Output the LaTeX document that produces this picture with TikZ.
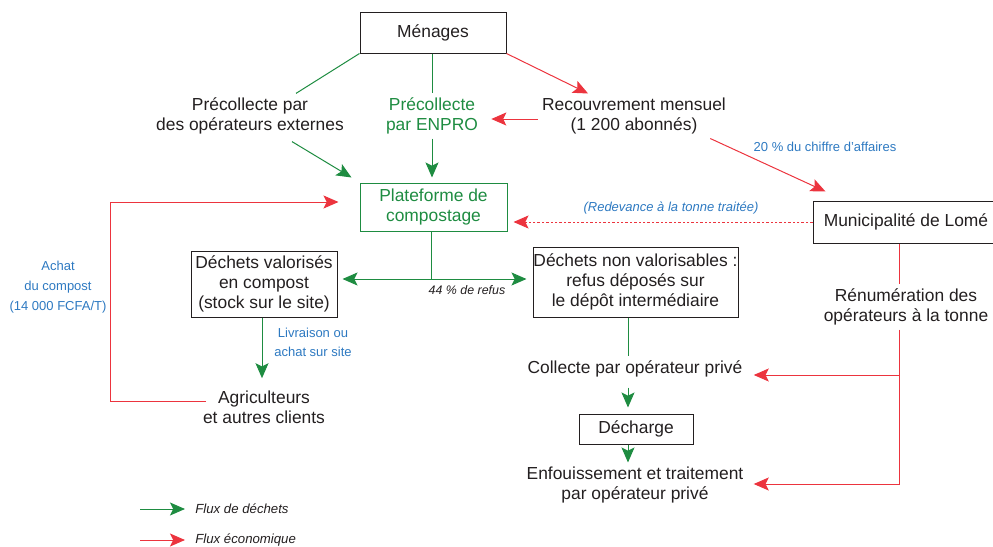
\documentclass[tikz,border=0pt]{standalone}
\usepackage{fontspec}
\setmainfont{Liberation Sans}
\usetikzlibrary{arrows.meta}

\definecolor{ink}{RGB}{35,31,32}
\definecolor{wastegreen}{RGB}{30,140,65}
\definecolor{ecored}{RGB}{236,52,62}
\definecolor{noteblue}{RGB}{45,121,193}

\begin{document}
\begin{tikzpicture}[x=0.5pt, y=-0.5pt,
        every node/.style={text=ink, align=center, inner sep=2pt, font=\fontsize{8.7}{10}\selectfont},
        box/.style={draw=ink, line width=0.5pt, inner sep=0pt},
        note/.style={text=noteblue, font=\fontsize{6.5}{10}\selectfont},
        legtext/.style={inner sep=0pt, anchor=west, font=\itshape\fontsize{6.6}{8}\selectfont},
        flux/.style={wastegreen, line width=0.5pt, -{Stealth[length=7.5pt, width=6.5pt, inset=1.6pt]}},
        eco/.style={ecored, line width=0.5pt, -{Stealth[length=7.5pt, width=6.5pt, inset=1.6pt]}}]
        \useasboundingbox (0,0) rectangle (993,547);

        % boxes and texts
        \node[box, minimum width=73pt, minimum height=20.5pt] (men) at (433,32.5) {Ménages};
        \node (pext) at (250,116) {Précollecte par\\des opérateurs externes};
        \node[text=wastegreen] (penp) at (432,116) {Précollecte\\par ENPRO};
        \node (recv) at (634,116) {Recouvrement mensuel\\(1 200 abonnés)};
        \node[box, draw=wastegreen, text=wastegreen, minimum width=73.5pt, minimum height=24pt] (plat) at (433.5,207) {Plateforme de\\compostage};
        \node[box, minimum width=93pt, minimum height=21pt] (muni) at (906,222) {Municipalité de Lomé};
        \node[box, minimum width=73pt, minimum height=33pt] (dval) at (264,284) {Déchets valorisés\\en compost\\(stock sur le site)};
        \node[box, minimum width=102.5pt, minimum height=35pt] (dnon) at (635.5,282) {Déchets non valorisables :\\refus déposés sur\\le dépôt intermédiaire};
        \node (agri) at (264,407) {Agriculteurs\\et autres clients};
        \node (coll) at (635,369) {Collecte par opérateur privé};
        \node[box, minimum width=57pt, minimum height=15pt] (dech) at (636,429) {Décharge};
        \node (enf) at (635,485) {Enfouissement et traitement\\par opérateur privé};
        \node (remu) at (906,307) {Rénumération des\\opérateurs à la tonne};

        % labels
        \node[note] (achat) at (58,287.5) {Achat\\du compost\\(14 000 FCFA/T)};
        \node[note] (chiffre) at (825,147) {20 \% du chiffre d’affaires};
        \node[note, font=\itshape\fontsize{6.5}{10}\selectfont] (redev) at (671,208) {(Redevance à la tonne traitée)};
        \node[font=\itshape\fontsize{6.2}{8}\selectfont] (refus) at (467,290) {44 \% de refus};
        \node[note, font=\fontsize{6.5}{9.5}\selectfont] (livr) at (313,342.5) {Livraison ou\\achat sur site};

        \coordinate (split) at (431,279);
        \coordinate (ax) at (628,0);
        \coordinate (rx) at (899,484);
        \coordinate (rb) at (899,375);
        \coordinate (lpb) at (206,401);
        \coordinate (lpt) at (110,202);

        % waste flows
        \draw[flux, -] (men.south west) -- ([xshift=23pt]pext.north);
        \draw[flux] ([shift={(21pt,-1.5pt)}]pext.south) -- ([shift={(-4pt,2.5pt)}]plat.north west);
        \draw[flux, -] (penp.north |- men.south) -- (penp.north);
        \draw[flux, shorten >=2.5pt] (penp.south) -- (penp.south |- plat.north);
        \draw[flux, -] (plat.south -| split) -- (split);
        \draw[flux, shorten >=2.5pt] (split) -- (split -| dval.east);
        \draw[flux, shorten >=3pt] (split) -- (split -| dnon.west);
        \draw[flux, shorten >=4pt] ([xshift=-1pt]dval.south) -- ([xshift=-1pt]dval.south |- agri.north);
        \draw[flux, -] (dnon.south -| ax) -- (coll.north -| ax);
        \draw[flux, shorten <=3pt, shorten >=3pt] (coll.south -| ax) -- (dech.north -| ax);
        \draw[flux] (dech.south -| ax) -- (enf.north -| ax);

        % economic flows
        \draw[eco] (men.south east) -- (recv);
        \draw[eco, shorten >=4.5pt] ([yshift=-1.5pt]recv.west) -- ([yshift=-1.5pt]penp.east);
        \draw[eco] ([xshift=-10pt]recv.south east) -- ([shift={(6.5pt,4.5pt)}]muni.north west);
        \draw[eco, dash pattern=on 1.2pt off 1pt, shorten >=3pt] (muni.west) -- (muni.west -| plat.east);
        \draw[eco] (lpb) -| (lpt) -- (lpt -| plat.west) [shorten >=10.5pt];
        \draw[eco, -] (muni.south -| rx) -- (remu.north -| rx);
        \draw[eco, shorten >=3pt] (remu.south -| rx) -- (rx) -- (rx -| enf.east);
        \draw[eco, shorten >=3.5pt] (rb) -- (rb -| coll.east);

        % legend
        \foreach \st/\lab/\y in {flux/Flux de déchets/509, eco/Flux économique/540} {
            \node[legtext] (leg\y) at (195,\y) {\lab};
            \coordinate (lgs\y) at (140,\y);
            \draw[\st, shorten >=5pt] (lgs\y) -- (leg\y.west);
        }
    \end{tikzpicture}
\end{document}
